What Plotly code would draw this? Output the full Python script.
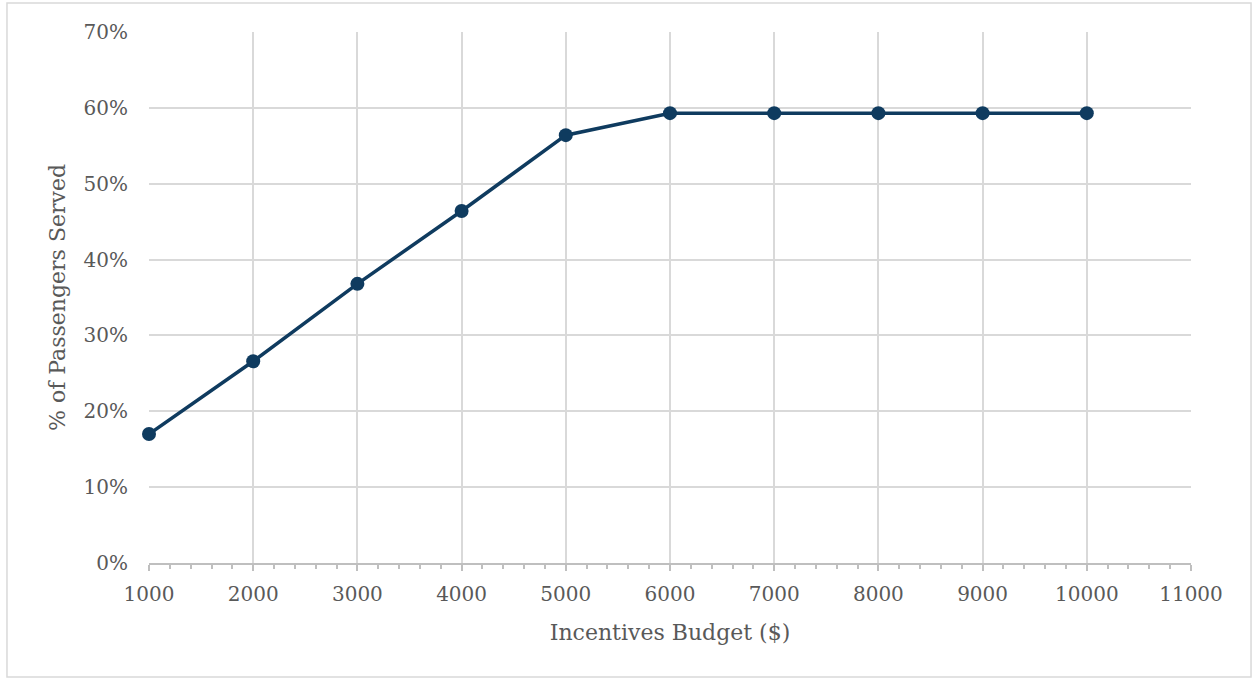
import plotly.graph_objects as go

# Incentives budget (USD) and share of passengers served
budget = [1000, 2000, 3000, 4000, 5000, 6000, 7000, 8000, 9000, 10000]
served = [0.170, 0.266, 0.368, 0.464, 0.564, 0.593, 0.593, 0.593, 0.593, 0.593]

x_ticks = list(range(1000, 11001, 1000))
y_ticks = [0, 0.1, 0.2, 0.3, 0.4, 0.5, 0.6, 0.7]

navy = "#0F3B5F"
grid = "#D9D9D9"
axis_grey = "#BFBFBF"
text_grey = "#595959"
font_family = "DejaVu Serif"

fig = go.Figure()
fig.add_trace(go.Scatter(
    x=budget, y=served, mode="lines+markers",
    line=dict(color=navy, width=3.5),
    marker=dict(color=navy, size=14),
    cliponaxis=False,
    showlegend=False, hoverinfo="skip",
))

fig.update_layout(
    width=1253, height=679,
    margin=dict(l=149, r=62, t=32, b=116),
    paper_bgcolor="white", plot_bgcolor="white",
    font=dict(family=font_family, color=text_grey, size=20),
    xaxis=dict(
        range=[1000, 11000], tickvals=x_ticks,
        ticktext=[str(v) for v in x_ticks],
        showgrid=True, gridcolor=grid, gridwidth=2,
        showline=True, linecolor=axis_grey, linewidth=2,
        ticks="outside", ticklen=6, tickcolor=axis_grey, tickwidth=2,
        minor=dict(dtick=200, ticks="outside", ticklen=4,
                   tickcolor=axis_grey, tickwidth=1.5, showgrid=False),
        ticklabelstandoff=6,
        tickfont=dict(size=20, color=text_grey),
        title=dict(text="Incentives Budget ($)", standoff=20,
                   font=dict(size=22, color=text_grey)),
        zeroline=False, fixedrange=True,
    ),
    yaxis=dict(
        range=[0, 0.7], tickvals=y_ticks, tickformat=".0%",
        showgrid=True, gridcolor=grid, gridwidth=2,
        showline=False, ticks="", ticklabelstandoff=20,
        tickfont=dict(size=20, color=text_grey),
        title=dict(text="% of Passengers Served", standoff=11,
                   font=dict(size=22, color=text_grey)),
        zeroline=False, fixedrange=True,
    ),
    shapes=[dict(
        type="rect", xref="paper", yref="paper",
        x0=-0.1363, x1=1.0576, y0=-0.2147, y1=1.0546,
        line=dict(color=grid, width=1.5), fillcolor="rgba(0,0,0,0)",
        layer="below",
    )],
)

fig.write_html("out.html")
